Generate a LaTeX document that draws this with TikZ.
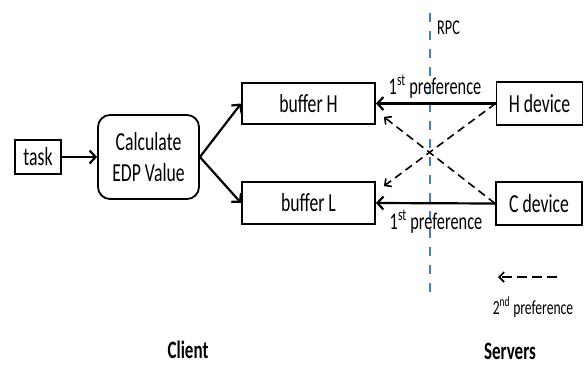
\documentclass[tikz,border=0pt]{standalone}
\usepackage{fontspec}
\setmainfont[FakeStretch=0.68]{Carlito}
\usetikzlibrary{arrows.meta,calc}
\definecolor{rpcblue}{HTML}{4A7EBB}
\begin{document}
\begin{tikzpicture}[x=1pt,y=-1pt,
  box/.style={draw, line width=1.8pt, inner sep=0pt, align=center,
    font=\fontsize{26}{31}\selectfont},
  lbl/.style={inner sep=0pt, font=\fontsize{24}{25}\selectfont},
  leglbl/.style={inner sep=0pt, font=\fontsize{20}{21}\selectfont},
  side/.style={inner sep=0pt, font=\bfseries\fontsize{25}{26}\selectfont},
  solidarr/.style={line width=2.2pt, -{Straight Barb[length=6pt,width=13pt,line width=2.2pt]}},
  dasharr/.style={line width=1.6pt, dash pattern=on 8pt off 5pt,
    -{Straight Barb[length=5pt,width=10pt,line width=1.6pt]}},
  rpcline/.style={rpcblue, line width=1.6pt, dash pattern=on 9pt off 9pt}]
\useasboundingbox (0,0) rectangle (584,365);

% RPC boundary between client and servers
\coordinate (rpctop) at (430,13);
\coordinate (rpcbot) at (430,298);
\draw[rpcline] (rpctop) -- (rpcbot);
\node[lbl, anchor=west, font=\fontsize{21}{22}\selectfont] (rpc) at (437,28) {RPC};

% client side
\node[box, minimum width=46pt, minimum height=34pt] (task) at (38,157) {task};
\node[box, rounded corners=12pt, minimum width=101pt, minimum height=84pt] (edp) at (148.5,157) {Calculate\\EDP Value};
\node[box, minimum width=133pt, minimum height=41pt] (bufH) at (308.5,103.5) {buffer H};
\node[box, minimum width=133pt, minimum height=42pt] (bufL) at (308.5,203) {buffer L};

% server side
\node[box, minimum width=86pt, minimum height=43pt] (hdev) at (539.5,103.5) {H device};
\node[box, minimum width=86pt, minimum height=43pt] (cdev) at (539,203.5) {C device};

% client flow
\draw[solidarr] (task) -- (edp);
\draw[solidarr] (edp.east) -- (bufH.west);
\draw[solidarr] (edp.east) -- (bufL.west);

% first preference
\draw[solidarr] (hdev.west) -- (bufH.east);
\draw[solidarr] (cdev.west) -- (bufL.east);
\node[lbl] (pref1) at (435,87) {1\textsuperscript{st} preference};
\node[lbl] (pref2) at (436,222) {1\textsuperscript{st} preference};

% second preference
\draw[dasharr] (hdev.west) -- ($(bufL.north east)+(8,5)$);
\draw[dasharr] (cdev.west) -- ($(bufH.south east)+(8,-8)$);

% legend
\coordinate (legR) at (557,277);
\coordinate (legL) at (498,277);
\draw[dasharr, dash pattern=on 10pt off 5pt] (legR) -- (legL);
\node[leglbl] (pref3) at (533,307) {2\textsuperscript{nd} preference};

% side captions
\node[side] (client) at (188,350) {Client};
\node[side] (servers) at (510,351) {Servers};
\end{tikzpicture}
\end{document}
